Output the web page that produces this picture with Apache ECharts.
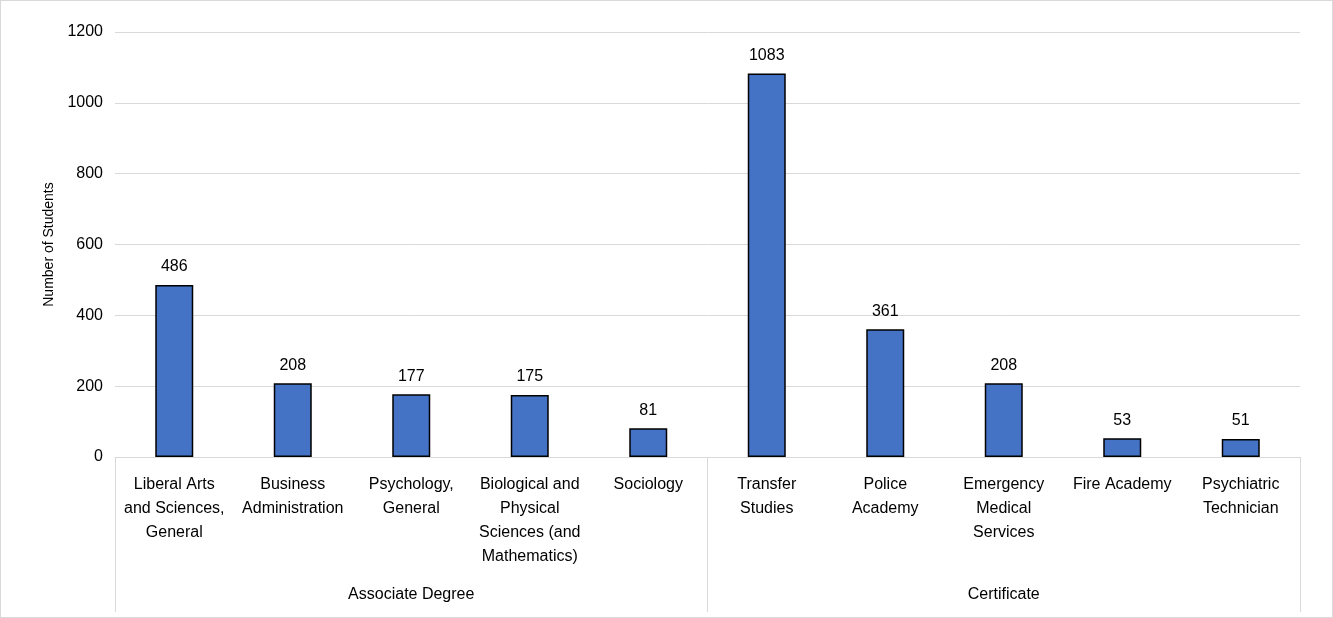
<!DOCTYPE html>
<html>
<head>
<meta charset="utf-8">
<script src="https://cdn.jsdelivr.net/npm/echarts@6/dist/echarts.min.js"></script>
<style>
  html, body { margin: 0; padding: 0; background: #fff; }
  #main { width: 1331px; height: 616px; border: 1px solid #d9d9d9; }
</style>
</head>
<body>
<div id="main"></div>
<script>
var categories = ['Liberal Arts\nand Sciences,\nGeneral', 'Business\nAdministration', 'Psychology,\nGeneral',
    'Biological and\nPhysical\nSciences (and\nMathematics)', 'Sociology', 'Transfer\nStudies', 'Police\nAcademy',
    'Emergency\nMedical\nServices', 'Fire Academy', 'Psychiatric\nTechnician'];
var students = [486, 208, 177, 175, 81, 1083, 361, 208, 53, 51];
var groups = ['Associate Degree', 'Certificate'];

var font = 'Liberation Sans, Arial, sans-serif';
var myChart = echarts.init(document.getElementById('main'));
myChart.setOption({
    animation: false,
    grid: { left: 114, right: 32, top: 31, bottom: 160 },
    xAxis: [{
        type: 'category',
        data: categories,
        axisLine: { lineStyle: { color: '#d9d9d9' } },
        axisTick: { show: false },
        axisLabel: { interval: 0, color: '#000', fontFamily: font, fontSize: 16, lineHeight: 24, margin: 16 }
    }, {
        type: 'category',
        data: groups,
        position: 'bottom',
        axisLine: { show: false },
        axisTick: { show: true, length: 155, interval: 0, lineStyle: { color: '#d9d9d9' } },
        axisLabel: { color: '#000', fontFamily: font, fontSize: 16, margin: 130 }
    }],
    yAxis: {
        type: 'value',
        min: 0, max: 1200, interval: 200,
        name: 'Number of Students',
        nameLocation: 'middle',
        nameGap: 52,
        nameTextStyle: { color: '#000', fontFamily: font, fontSize: 14 },
        axisLabel: { color: '#000', fontFamily: font, fontSize: 16, margin: 12, formatter: function (v) { return String(v); } },
        splitLine: { lineStyle: { color: '#d9d9d9' } }
    },
    series: [{
        type: 'bar',
        data: students,
        barWidth: 38,
        itemStyle: { color: '#4472C4', borderColor: '#000', borderWidth: 1.5 },
        label: { show: true, position: 'top', distance: 10, color: '#000', fontFamily: font, fontSize: 16 }
    }]
});
</script>
</body>
</html>
